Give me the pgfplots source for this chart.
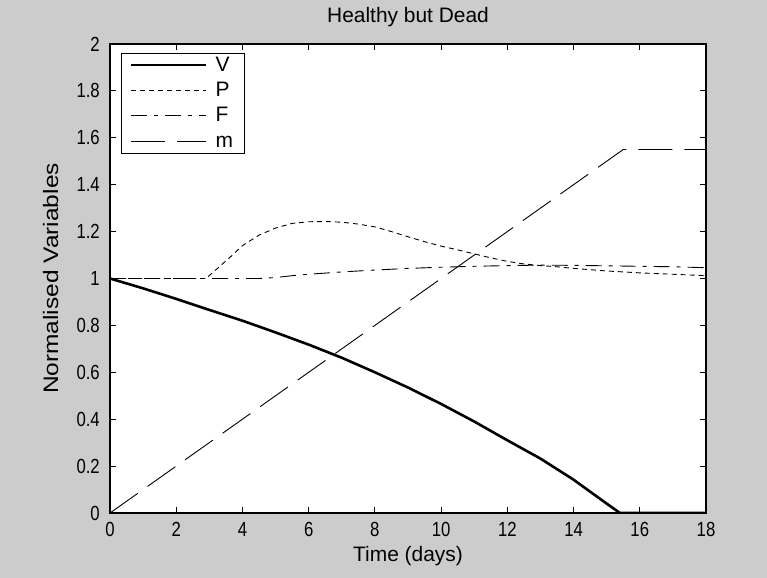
\documentclass[border=0pt]{standalone}
\usepackage{fontspec}
\setmainfont{Liberation Sans}
\newfontfamily\widefont{Liberation Sans}[FakeStretch=1.17]
\newfontfamily\tickfont{Liberation Sans}[FakeStretch=0.82]
\usepackage{pgfplots}
\pgfplotsset{compat=1.18}
\definecolor{bggray}{RGB}{204,204,204}

\begin{document}
\begin{tikzpicture}[x=1bp,y=1bp]
\useasboundingbox (0,0) rectangle (767,578);
\fill[bggray] (0,0) rectangle (767,578);
\begin{axis}[
  at={(110bp,65bp)}, anchor=south west,
  scale only axis, width=596bp, height=469bp,
  xmin=0, xmax=18, ymin=0, ymax=2,
  xtick={0,2,4,6,8,10,12,14,16,18},
  ytick={0,0.2,0.4,0.6,0.8,1,1.2,1.4,1.6,1.8,2},
  axis background/.style={fill=white},
  tick align=inside, major tick length=6bp,
  tick style={line width=0.9bp, black},
  axis line style={line width=1.2bp, black},
  /pgf/number format/assume math mode=true,
  tick label style={font=\tickfont\fontsize{20.5}{24}\selectfont},
  xticklabel style={inner sep=0pt, yshift=-9bp},
  yticklabel style={inner sep=0pt, xshift=-10bp},
  title={Healthy but Dead},
  title style={font=\fontsize{21}{24}\selectfont, at={(0.5,1)}, anchor=base, yshift=15.7bp},
  xlabel={Time (days)},
  xlabel style={font=\fontsize{21}{24}\selectfont, at={(0.5,0)}, anchor=base, yshift=-49bp},
  ylabel={Normalised Variables},
  ylabel style={font=\widefont\fontsize{21}{24}\selectfont, at={(-0.0872,0.5)}, anchor=base},
  legend style={at={(0,1)}, anchor=north west, xshift=10.7bp, yshift=-8.7bp,
    draw=black, line width=0.9bp, fill=white,
    font=\fontsize{21}{24}\selectfont,
    inner xsep=9bp, inner ysep=2bp, column sep=6bp, row sep=5.4bp,
    nodes={text height=14bp, text depth=2bp, inner ysep=2bp}},
  legend cell align=left,
  legend image code/.code={\draw[#1] (0bp,0bp) -- (75bp,0bp);},
]
\addplot[black, line width=2.6bp] coordinates {
(0,1) (1,0.958) (2,0.913) (3,0.866) (4,0.82) (5,0.77) (6,0.718) (7,0.662)
(8,0.60) (9,0.535) (10,0.465) (11,0.39) (12,0.31) (13,0.232) (14,0.142)
(15,0.04) (15.4,0) (18,0)};
\addlegendentry{V}
\addplot[black, line width=0.9bp, dash pattern=on 5bp off 4bp] coordinates {
(0,1) (2.9,1) (3.3,1.05) (3.7,1.10) (4,1.14) (4.5,1.185) (5,1.215) (5.5,1.235)
(6,1.242) (6.5,1.243) (7,1.24) (7.5,1.232) (8,1.22) (8.5,1.20) (9,1.178)
(9.5,1.157) (10,1.138) (10.5,1.122) (11,1.105) (11.5,1.088) (12,1.073)
(12.5,1.062) (13,1.055) (13.5,1.05) (14,1.043) (15,1.032) (16,1.024)
(17,1.018) (18,1.012)};
\addlegendentry{P}
\addplot[black, line width=0.9bp, dash pattern=on 16bp off 7bp on 4bp off 7bp] coordinates {
(0,1) (4.5,1) (5,1.004) (5.5,1.012) (6,1.018) (7,1.028) (8,1.036) (9,1.043)
(10,1.048) (11,1.052) (12,1.055) (13,1.057) (14,1.056) (15,1.054) (16,1.052)
(17,1.05) (18,1.046)};
\addlegendentry{F}
\addplot[black, line width=0.9bp, dash pattern=on 34bp off 12bp] coordinates {
(0,0) (15.5,1.55) (18,1.55)};
\addlegendentry{m}
\end{axis}
\end{tikzpicture}
\end{document}
